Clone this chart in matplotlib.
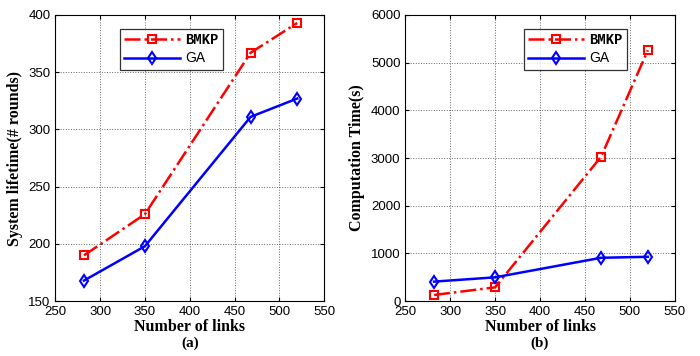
import matplotlib.pyplot as plt

# 數據
links = [282, 350, 468, 520]
life_bmkp = [190, 226, 367, 393]
life_ga = [168, 198, 311, 327]
time_bmkp = [130, 290, 3030, 5260]
time_ga = [410, 500, 910, 930]

plt.rcParams['font.family'] = ['Liberation Sans', 'DejaVu Sans']
plt.rcParams['xtick.direction'] = 'in'
plt.rcParams['ytick.direction'] = 'in'

fig = plt.figure(figsize=(7, 3.56), dpi=100)
ax1 = fig.add_axes([0.079, 0.154, 0.384, 0.804])
ax2 = fig.add_axes([0.579, 0.154, 0.385, 0.804])

panels = [
    (ax1, life_bmkp, life_ga, 'System lifetime(# rounds)', (150, 400), [150, 200, 250, 300, 350, 400], '(a)', (0.215, 0.975)),
    (ax2, time_bmkp, time_ga, 'Computation Time(s)', (0, 6000), [0, 1000, 2000, 3000, 4000, 5000, 6000], '(b)', (0.415, 0.975)),
]

for ax, bmkp, ga, ylabel, ylim, yticks, tag, legpos in panels:
    l1, = ax.plot(links, bmkp, color='red', linestyle='-.', linewidth=1.8,
                  marker='s', markersize=6, markerfacecolor='none', markeredgewidth=1.5)
    l2, = ax.plot(links, ga, color='blue', linestyle='-', linewidth=1.8,
                  marker='d', markersize=6, markerfacecolor='none', markeredgewidth=1.5)
    ax.set_xlim(250, 550)
    ax.set_xticks([250, 300, 350, 400, 450, 500, 550])
    ax.set_ylim(*ylim)
    ax.set_yticks(yticks)
    ax.tick_params(labelsize=9.5, top=True, right=True, length=3)
    ax.grid(True, linestyle=':', color='black', linewidth=0.7, alpha=0.6)
    ax.set_xlabel('Number of links', fontsize=11.5, fontweight='bold',
                  family='Liberation Serif', labelpad=1)
    ax.set_ylabel(ylabel, fontsize=11.5, fontweight='bold', family='Liberation Serif', labelpad=4)
    pos = ax.get_position()
    fig.text((pos.x0 + pos.x1) / 2, 0.035, tag, ha='center', va='center',
             fontsize=11, fontweight='bold', family='Liberation Serif')
    leg = ax.legend([l1, l2], ['BMKP', 'GA'], loc='upper left', bbox_to_anchor=(legpos[0], legpos[1]),
                    fancybox=False, edgecolor='black', fontsize=10, handlelength=4.0,
                    borderpad=0.3, labelspacing=0.3, handletextpad=0.4)
    leg.get_frame().set_linewidth(0.9)
    leg.get_texts()[0].set_family('Liberation Mono')
    leg.get_texts()[0].set_fontweight('bold')

plt.savefig('out.png', dpi=100)
